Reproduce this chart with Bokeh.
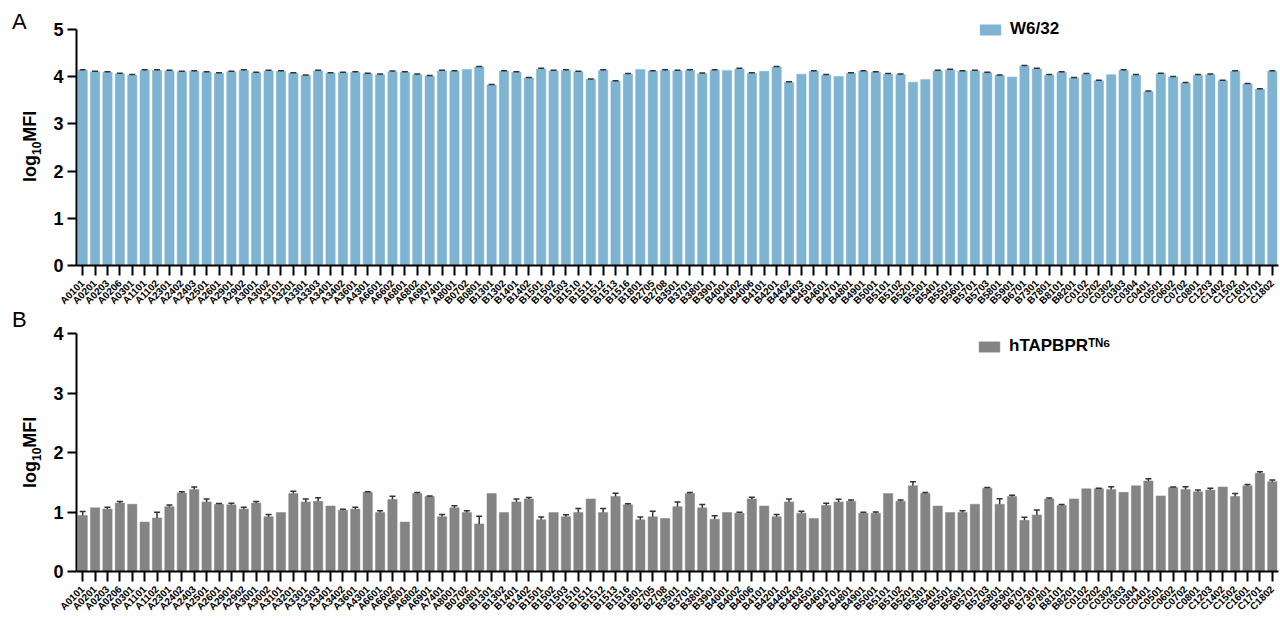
import math
from bokeh.plotting import figure
from bokeh.layouts import column
from bokeh.models import (ColumnDataSource, Whisker, TeeHead, Legend, LegendItem,
                          FactorRange, FixedTicker, Range1d, Div)
from bokeh.embed import file_html
from bokeh.resources import INLINE

alleles = ["A0101", "A0201", "A0203", "A0206", "A0301", "A1101", "A1102", "A2301", "A2402", "A2403",
           "A2501", "A2601", "A2901", "A2902", "A3001", "A3002", "A3101", "A3201", "A3301", "A3303",
           "A3401", "A3402", "A3601", "A4301", "A6601", "A6602", "A6801", "A6802", "A6901", "A7401",
           "A8001", "B0702", "B0801", "B1301", "B1302", "B1401", "B1402", "B1501", "B1502", "B1503",
           "B1510", "B1511", "B1512", "B1513", "B1516", "B1801", "B2705", "B2708", "B3501", "B3701",
           "B3801", "B3901", "B4001", "B4002", "B4006", "B4101", "B4201", "B4402", "B4403", "B4501",
           "B4601", "B4701", "B4801", "B4901", "B5001", "B5101", "B5102", "B5201", "B5301", "B5401",
           "B5501", "B5601", "B5701", "B5703", "B5801", "B5901", "B6701", "B7301", "B7801", "B8101",
           "B8201", "C0102", "C0202", "C0302", "C0303", "C0304", "C0401", "C0501", "C0602", "C0702",
           "C0801", "C1203", "C1402", "C1502", "C1601", "C1701", "C1802"]

w632 = [4.13, 4.10, 4.09, 4.06, 4.03, 4.13, 4.13, 4.12, 4.10, 4.11,
        4.09, 4.07, 4.10, 4.13, 4.08, 4.12, 4.11, 4.07, 4.02, 4.12,
        4.07, 4.08, 4.09, 4.06, 4.04, 4.10, 4.09, 4.04, 4.01, 4.12,
        4.11, 4.15, 4.20, 3.82, 4.11, 4.09, 3.97, 4.16, 4.12, 4.13,
        4.10, 3.94, 4.13, 3.90, 4.05, 4.15, 4.11, 4.13, 4.12, 4.13,
        4.06, 4.13, 4.13, 4.16, 4.07, 4.11, 4.20, 3.88, 4.05, 4.11,
        4.03, 4.00, 4.07, 4.11, 4.09, 4.05, 4.04, 3.88, 3.94, 4.12,
        4.14, 4.11, 4.12, 4.08, 4.02, 3.99, 4.22, 4.16, 4.03, 4.09,
        3.97, 4.05, 3.91, 4.04, 4.13, 4.03, 3.68, 4.06, 3.99, 3.86,
        4.03, 4.04, 3.91, 4.11, 3.84, 3.73, 4.11]

w632_err = [0.015, 0.012, 0.010, 0.012, 0.012, 0.015, 0.012, 0.012, 0.010, 0.012,
            0.010, 0.012, 0.012, 0.015, 0.010, 0.012, 0.012, 0.010, 0.012, 0.015,
            0.012, 0.010, 0.012, 0.012, 0.012, 0.015, 0.010, 0.012, 0.012, 0.012,
            0.012, 0.000, 0.015, 0.012, 0.012, 0.012, 0.010, 0.015, 0.012, 0.012,
            0.012, 0.010, 0.015, 0.012, 0.012, 0.000, 0.012, 0.012, 0.012, 0.012,
            0.015, 0.012, 0.000, 0.015, 0.012, 0.000, 0.015, 0.012, 0.000, 0.012,
            0.012, 0.000, 0.012, 0.012, 0.012, 0.012, 0.012, 0.000, 0.000, 0.012,
            0.015, 0.012, 0.012, 0.012, 0.015, 0.000, 0.015, 0.015, 0.012, 0.012,
            0.012, 0.012, 0.012, 0.000, 0.015, 0.012, 0.012, 0.012, 0.012, 0.012,
            0.012, 0.012, 0.012, 0.012, 0.012, 0.012, 0.012]

tapbpr = [0.94, 1.07, 1.05, 1.15, 1.13, 0.83, 0.90, 1.09, 1.32, 1.38,
          1.17, 1.13, 1.12, 1.05, 1.15, 0.92, 0.99, 1.31, 1.17, 1.18,
          1.10, 1.03, 1.05, 1.33, 0.99, 1.21, 0.83, 1.31, 1.26, 0.92,
          1.07, 0.99, 0.80, 1.31, 0.99, 1.17, 1.22, 0.87, 0.99, 0.92,
          0.99, 1.22, 0.99, 1.26, 1.12, 0.87, 0.92, 0.89, 1.09, 1.31,
          1.07, 0.88, 0.99, 0.98, 1.22, 1.10, 0.92, 1.17, 0.98, 0.89,
          1.11, 1.17, 1.18, 0.98, 0.98, 1.31, 1.18, 1.44, 1.31, 1.10,
          0.99, 0.99, 1.13, 1.40, 1.13, 1.26, 0.86, 0.95, 1.22, 1.11,
          1.22, 1.39, 1.39, 1.38, 1.33, 1.44, 1.52, 1.27, 1.41, 1.38,
          1.34, 1.37, 1.42, 1.26, 1.44, 1.65, 1.51]

tapbpr_err = [0.067, 0.000, 0.028, 0.028, 0.000, 0.000, 0.094, 0.028, 0.022, 0.039,
              0.050, 0.011, 0.028, 0.028, 0.028, 0.039, 0.000, 0.039, 0.050, 0.061,
              0.000, 0.017, 0.028, 0.011, 0.033, 0.056, 0.000, 0.017, 0.011, 0.039,
              0.033, 0.033, 0.128, 0.000, 0.000, 0.050, 0.022, 0.044, 0.000, 0.033,
              0.067, 0.000, 0.067, 0.056, 0.017, 0.044, 0.094, 0.000, 0.078, 0.017,
              0.056, 0.056, 0.000, 0.017, 0.028, 0.000, 0.039, 0.050, 0.033, 0.000,
              0.039, 0.044, 0.022, 0.017, 0.022, 0.000, 0.022, 0.067, 0.017, 0.000,
              0.000, 0.033, 0.000, 0.011, 0.094, 0.022, 0.050, 0.083, 0.017, 0.017,
              0.000, 0.000, 0.011, 0.044, 0.000, 0.000, 0.039, 0.000, 0.011, 0.044,
              0.028, 0.028, 0.000, 0.050, 0.022, 0.028, 0.028]

panel_letters = ["A", "B"]
legend_labels = ["W6/32", "hTAPBPR\u1d40\u1d3a\u2076"]
y_title_html = 'log<sub style="font-size:12px">10</sub>MFI'

FONT = "Liberation Sans"


def panel(values, errs, ymax, ytop, color, legend_text, height, top, bottom, legend_loc):
    p = figure(x_range=FactorRange(factors=alleles, range_padding=0), y_range=Range1d(0, ytop),
               width=1280, height=height, output_backend="svg", toolbar_location=None,
               min_border_left=76, min_border_right=2, min_border_top=top, min_border_bottom=bottom)
    src = ColumnDataSource(dict(allele=alleles, val=values))
    r = p.vbar(x="allele", top="val", width=0.75, source=src,
               fill_color=color, line_color=color, line_width=0.5)
    ea = [a for a, e in zip(alleles, errs) if e > 0]
    ev = [v for v, e in zip(values, errs) if e > 0]
    eu = [v + e for v, e in zip(values, errs) if e > 0]
    esrc = ColumnDataSource(dict(allele=ea, low=ev, up=eu))
    w = Whisker(source=esrc, base="allele", lower="low", upper="up",
                line_color="#333333", line_width=1.5,
                upper_head=TeeHead(size=6, line_color="#333333", line_width=1.5),
                lower_head=None, level="glyph")
    p.add_layout(w)

    p.xgrid.visible = False
    p.ygrid.visible = False
    p.outline_line_color = None
    p.background_fill_color = "white"

    for ax in (p.xaxis, p.yaxis):
        ax.axis_line_width = 2
        ax.axis_line_color = "black"
        ax.major_tick_line_width = 2
        ax.major_tick_line_color = "black"
        ax.major_tick_in = 0
        ax.minor_tick_line_color = None
        ax.major_label_text_font = FONT
        ax.major_label_text_font_style = "bold"
        ax.major_label_text_color = "black"

    p.xaxis.major_label_orientation = math.pi / 4
    p.xaxis.major_label_text_font_size = "10px"
    p.xaxis.major_tick_out = 10
    p.xaxis.major_label_standoff = 6

    p.yaxis.bounds = (0, ymax)
    p.yaxis.ticker = FixedTicker(ticks=list(range(0, ymax + 1)))
    p.yaxis.major_label_text_font_size = "18px"
    p.yaxis.major_tick_out = 9
    p.yaxis.major_label_standoff = 4

    leg = Legend(items=[LegendItem(label=legend_text, renderers=[r])], location=legend_loc,
                 border_line_color=None, background_fill_alpha=0, padding=0, margin=0,
                 glyph_width=26, glyph_height=13, label_standoff=7, label_height=20,
                 label_text_font=FONT, label_text_font_style="bold", label_text_font_size="17px",
                 label_text_color="black")
    p.add_layout(leg)
    return p


def letter_div(text, top):
    return Div(text=text, margin=0,
               styles={"position": "absolute", "left": "12px", "top": f"{top}px",
                       "font-family": FONT, "font-size": "22px", "line-height": "22px",
                       "color": "black", "z-index": "10"})


def ytitle_div(html, start):
    return Div(text=html, margin=0,
               styles={"position": "absolute", "left": "20px", "top": f"{start}px",
                       "font-family": FONT, "font-size": "18px", "font-weight": "bold",
                       "line-height": "20px", "white-space": "nowrap", "color": "black",
                       "transform": "rotate(-90deg)", "transform-origin": "0 0",
                       "z-index": "10"})


pA = panel(w632, w632_err, 5, 5.25, "#7EB3D1", legend_labels[0], 313, 17, 44, (901, 226))
pB = panel(tapbpr, tapbpr_err, 4, 4, "#848484", legend_labels[1], 306, 20, 44, (900, 215))

layout = column(pA, pB,
                letter_div(panel_letters[0], 11), letter_div(panel_letters[1], 309),
                ytitle_div(y_title_html, 182), ytitle_div(y_title_html, 488),
                spacing=0)
open("out.html", "w").write(file_html(layout, INLINE))
